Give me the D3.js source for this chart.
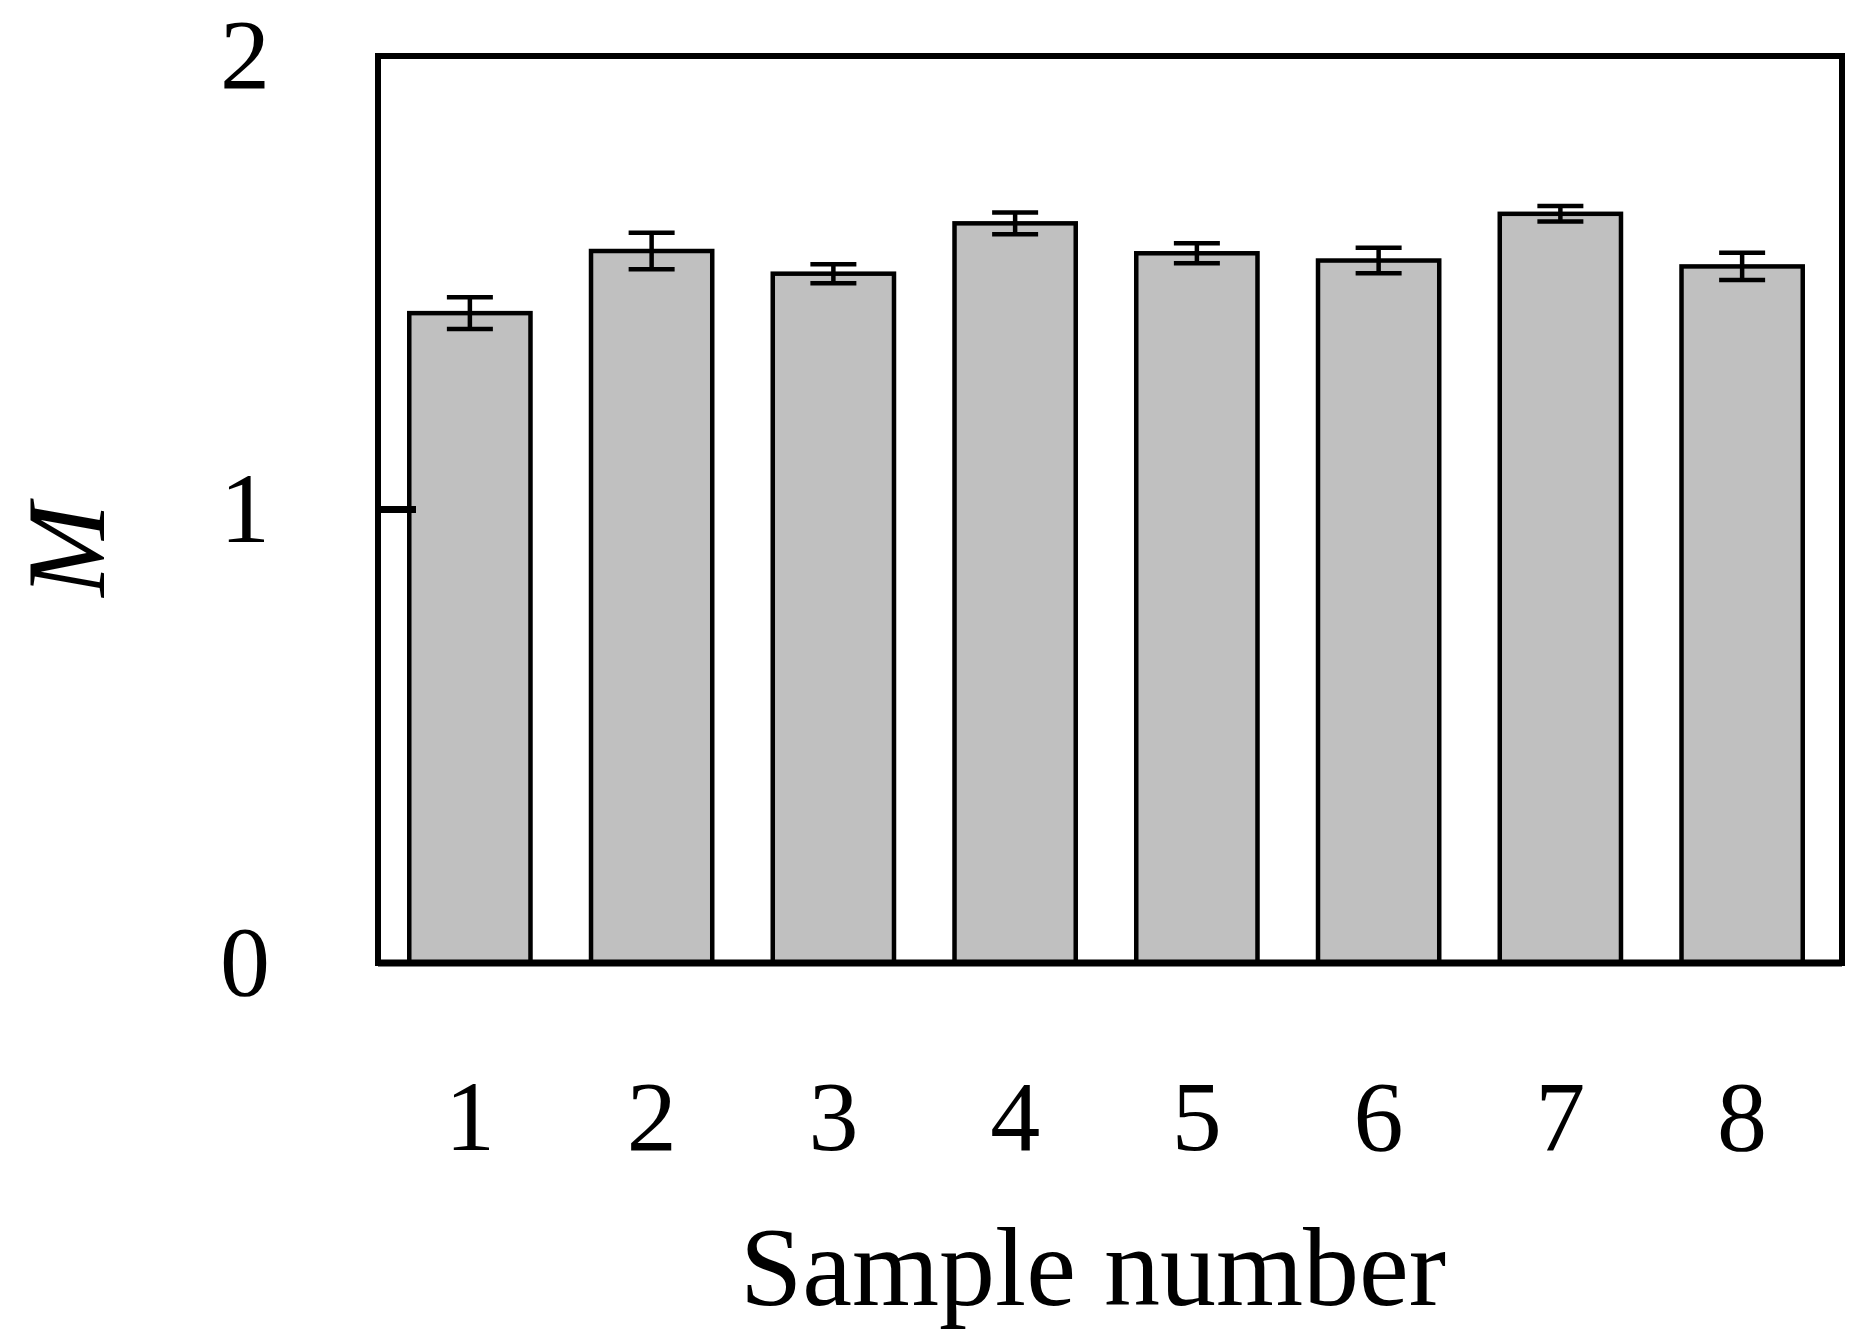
<!DOCTYPE html>
<html><head><meta charset="utf-8">
<script src="https://cdn.jsdelivr.net/npm/d3@7"></script>
<style>body{margin:0;background:#fff}text{font-family:"Liberation Serif","DejaVu Serif",serif;fill:#000}</style>
</head><body><svg id="c" width="1866" height="1342"></svg>
<script>
var samples = ['1', '2', '3', '4', '5', '6', '7', '8']
var means = [1.433, 1.570, 1.520, 1.631, 1.565, 1.549, 1.652, 1.536]
var errors = [0.035, 0.040, 0.021, 0.024, 0.022, 0.028, 0.017, 0.030]
var yTicks = [0, 1, 2]

var svg = d3.select('#c')
var m = { l: 378, r: 1842, t: 56, b: 963 }
var x = d3.scaleBand().domain(samples).range([m.l + 4, m.r - 12]).paddingInner(0.333).paddingOuter(0.15)
var y = d3.scaleLinear().domain([0, 2]).range([m.b, m.t])

var rows = samples.map(function (s, i) { return { s: s, v: means[i], e: errors[i] } })

svg.selectAll('rect.bar').data(rows).enter().append('rect')
  .attr('class', 'bar')
  .attr('x', function (d) { return x(d.s) })
  .attr('width', x.bandwidth())
  .attr('y', function (d) { return y(d.v) })
  .attr('height', function (d) { return y(0) - y(d.v) })
  .attr('fill', '#c0c0c0').attr('stroke', '#000').attr('stroke-width', 4.5)

var eb = svg.selectAll('g.err').data(rows).enter().append('g')
  .attr('transform', function (d) { return 'translate(' + (x(d.s) + x.bandwidth() / 2) + ',0)' })
  .attr('stroke', '#000').attr('stroke-width', 4.5)
eb.append('line').attr('y1', function (d) { return y(d.v + d.e) }).attr('y2', function (d) { return y(d.v - d.e) })
eb.append('line').attr('x1', -23).attr('x2', 23).attr('y1', function (d) { return y(d.v + d.e) }).attr('y2', function (d) { return y(d.v + d.e) })
eb.append('line').attr('x1', -23).attr('x2', 23).attr('y1', function (d) { return y(d.v - d.e) }).attr('y2', function (d) { return y(d.v - d.e) })

svg.append('rect').attr('x', m.l).attr('y', m.t).attr('width', m.r - m.l).attr('height', m.b - m.t)
  .attr('fill', 'none').attr('stroke', '#000').attr('stroke-width', 6)
svg.append('line').attr('x1', m.l).attr('x2', m.r).attr('y1', y(0)).attr('y2', y(0)).attr('stroke', '#000').attr('stroke-width', 7)

svg.append('line').attr('x1', m.l).attr('x2', m.l + 38).attr('y1', y(1)).attr('y2', y(1)).attr('stroke', '#000').attr('stroke-width', 7)

svg.selectAll('text.yt').data(yTicks).enter().append('text')
  .attr('x', 270).attr('y', function (d) { return y(d) + 32 })
  .attr('text-anchor', 'end').attr('font-size', 100).text(function (d) { return d })

svg.selectAll('text.xt').data(samples).enter().append('text')
  .attr('x', function (d) { return x(d) + x.bandwidth() / 2 }).attr('y', 1150)
  .attr('text-anchor', 'middle').attr('font-size', 100).text(function (d) { return d })

svg.append('text').attr('x', 1093).attr('y', 1305).attr('text-anchor', 'middle').attr('font-size', 112).text('Sample number')
svg.append('text').attr('transform', 'translate(104,550) rotate(-90)').attr('text-anchor', 'middle')
  .attr('font-size', 112).attr('font-style', 'italic').text('M')
</script></body></html>
